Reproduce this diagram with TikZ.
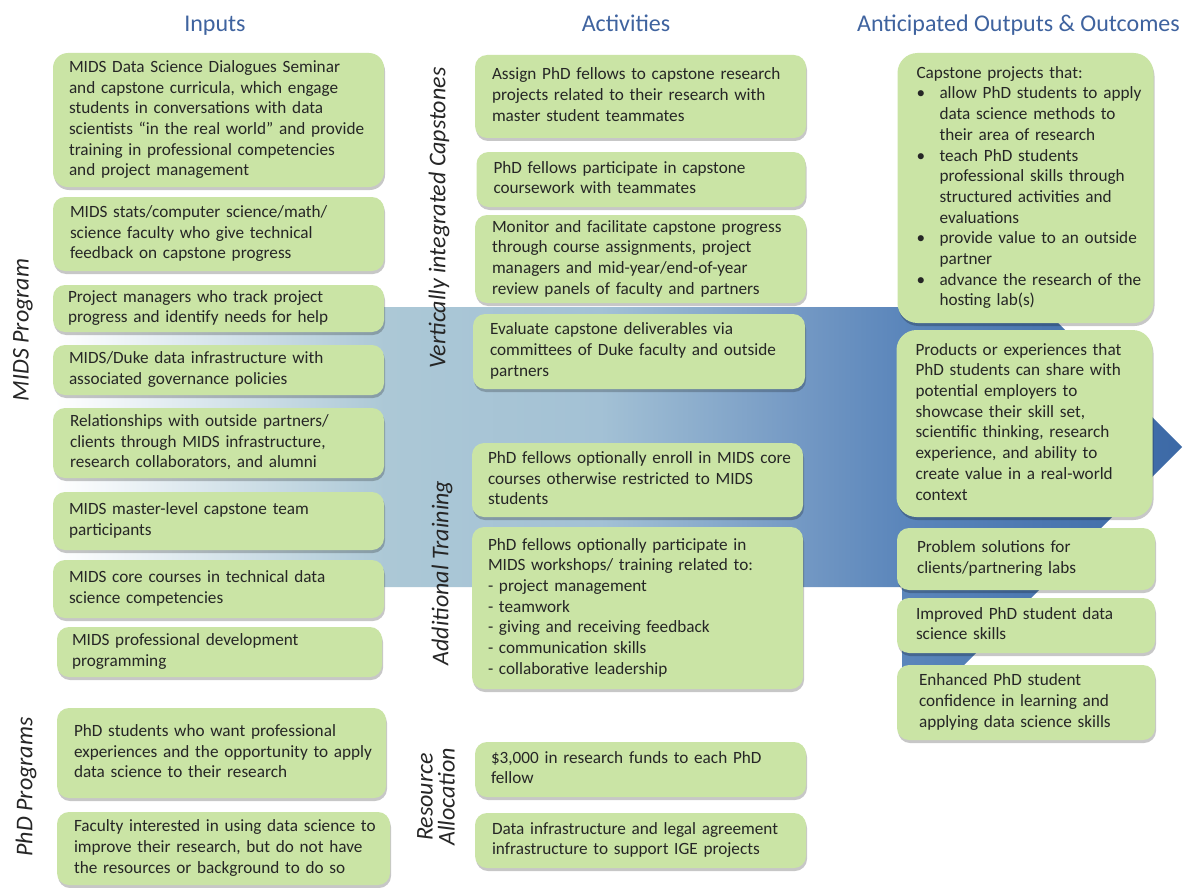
\documentclass[tikz,border=0pt]{standalone}
\usepackage{fontspec}
\setmainfont{Carlito}
\usetikzlibrary{shadows}

\definecolor{boxgreen}{HTML}{CAE4A5}
\definecolor{headblue}{HTML}{3F639F}
\definecolor{bodytext}{HTML}{262626}
\definecolor{flowA}{HTML}{ACC8D6}
\definecolor{flowB}{HTML}{A3C1D5}
\definecolor{flowC}{HTML}{7499C4}
\definecolor{flowD}{HTML}{5B86BB}
\definecolor{flowE}{HTML}{3C69A6}

% left-to-right fill of the big flow arrow (path box spans 25bp..75bp)
\pgfdeclarehorizontalshading{flowshade}{100bp}{%
  color(0bp)=(white); color(25bp)=(white); color(39.6bp)=(flowA);
  color(49.2bp)=(flowB); color(58bp)=(flowC); color(62.5bp)=(flowD);
  color(75bp)=(flowE); color(100bp)=(flowE)}

% a block of lines that never re-wraps
\newcommand\rows[1]{\begin{tabular}{@{}l@{}}#1\end{tabular}}
\newcommand\bul{\makebox[23pt][l]{\textbullet}}
\newcommand\ind{\hspace*{23pt}}

\tikzset{
  box/.style={fill=boxgreen, rounded corners=12pt, inner ysep=0pt,
    align=left, text=bodytext, font=\fontsize{17.2}{20.7}\selectfont,
    drop shadow={shadow xshift=1pt, shadow yshift=-3pt, fill=black, opacity=0.22}},
  % width, height, left/right padding
  bsize/.code n args={3}{\pgfmathsetmacro\boxtw{#1-2*#3}%
    \edef\boxopts{inner xsep=#3pt, minimum width=#1pt, minimum height=#2pt, text width=\boxtw pt}%
    \expandafter\pgfkeysalso\expandafter{\boxopts}},
  head/.style={text=headblue, font=\fontsize{24}{28}\selectfont, anchor=base, inner sep=0pt},
  side/.style={text=bodytext, font=\fontsize{24}{22}\selectfont\itshape, rotate=90, inner sep=0pt}
}

\begin{document}
\begin{tikzpicture}[x=1pt, y=-1pt]
\useasboundingbox (0,0) rectangle (1191,888);
\fill[white] (0,0) rectangle (1191,888);

% flow arrow behind the three columns
\shade[shading=flowshade] (55,307) -- (902,307) -- (902,167) -- (1182,447)
  -- (902,727) -- (902,587) -- (55,587) -- cycle;

% column headings
\node[head] (hin)  at (215,32)    {Inputs};
\node[head] (hact) at (626,32)    {Activities};
\node[head] (hout) at (1018.5,32) {Anticipated Outputs \& Outcomes};

% group labels
\node[side] (lmids) at (23,330)  {MIDS Program};
\node[side] (lphd)  at (26,787)  {PhD Programs};
\node[side] (lvic)  at (439,218) {Vertically integrated Capstones};
\node[side] (ladd)  at (442,573) {Additional Training};
\node[side, align=center] (lres) at (436,797) {Resource\\Allocation};

% inputs
\node[box, bsize={331}{134}{16}, rounded corners=15pt] (in1) at (218.5,120) {\rows{%
  MIDS Data Science Dialogues Seminar\\
  and capstone curricula, which engage\\
  students in conversations with data\\
  scientists “in the real world” and provide\\
  training in professional competencies\\
  and project management}};
\node[box, bsize={331}{74}{17}] (in2) at (218.5,234) {\rows{%
  MIDS stats/computer science/math/\\
  science faculty who give technical\\
  feedback on capstone progress}};
\node[box, bsize={331}{47}{15}] (in3) at (218.5,308.5) {\rows{%
  Project managers who track project\\
  progress and identify needs for help}};
\node[box, bsize={331}{50}{16}] (in4) at (218.5,370) {\rows{%
  MIDS/Duke data infrastructure with\\
  associated governance policies}};
\node[box, bsize={331}{70}{17}] (in5) at (218.5,443) {\rows{%
  Relationships with outside partners/\\
  clients through MIDS infrastructure,\\
  research collaborators, and alumni}};
\node[box, bsize={331}{58}{16}] (in6) at (218.5,521) {\rows{%
  MIDS master-level capstone team\\
  participants}};
\node[box, bsize={331}{58}{16}] (in7) at (218.5,589) {\rows{%
  MIDS core courses in technical data\\
  science competencies}};
\node[box, bsize={325}{50}{15}] (in8) at (219.5,652) {\rows{%
  MIDS professional development\\
  programming}};
\node[box, bsize={329}{90}{17}] (in9) at (221.5,753) {\rows{%
  PhD students who want professional\\
  experiences and the opportunity to apply\\
  data science to their research}};
\node[box, bsize={333}{73}{17}] (in10) at (223.5,848.5) {\rows{%
  Faculty interested in using data science to\\
  improve their research, but do not have\\
  the resources or background to do so}};

% activities
\node[box, bsize={331}{83}{17}] (ac1) at (640.5,96.5) {\rows{%
  Assign PhD fellows to capstone research\\
  projects related to their research with\\
  master student teammates}};
\node[box, bsize={329}{55}{17}] (ac2) at (641,179.5) {\rows{%
  PhD fellows participate in capstone\\
  coursework with teammates}};
\node[box, bsize={331}{88}{17}] (ac3) at (640.5,259) {\rows{%
  Monitor and facilitate capstone progress\\
  through course assignments, project\\
  managers and mid-year/end-of-year\\
  review panels of faculty and partners}};
\node[box, bsize={332}{75}{17}] (ac4) at (639,351.5) {\rows{%
  Evaluate capstone deliverables via\\
  committees of Duke faculty and outside\\
  partners}};
\node[box, bsize={331}{74}{16}] (ac5) at (637.5,480) {\rows{%
  PhD fellows optionally enroll in MIDS core\\
  courses otherwise restricted to MIDS\\
  students}};
\node[box, bsize={331}{162}{16}] (ac6) at (637.5,608) {\rows{%
  PhD fellows optionally participate in\\
  MIDS workshops/ training related to:\\
  - project management\\
  - teamwork\\
  - giving and receiving feedback\\
  - communication skills\\
  - collaborative leadership}};
\node[box, bsize={331}{55}{16}] (ac7) at (640.5,769.5) {\rows{%
  \$3,000 in research funds to each PhD\\
  fellow}};
\node[box, bsize={331}{55}{17}] (ac8) at (640.5,840.5) {\rows{%
  Data infrastructure and legal agreement\\
  infrastructure to support IGE projects}};

% outputs and outcomes
\node[box, bsize={256}{270}{19}, rounded corners=20pt] (out1) at (1025.5,188) {\rows{%
  Capstone projects that:\\
  \bul allow PhD students to apply\\
  \ind data science methods to\\
  \ind their area of research\\
  \bul teach PhD students\\
  \ind professional skills through\\
  \ind structured activities and\\
  \ind evaluations\\
  \bul provide value to an outside\\
  \ind partner\\
  \bul advance the research of the\\
  \ind hosting lab(s)}};
\node[box, bsize={256}{187}{19}, rounded corners=20pt] (out2) at (1024.5,423.5) {\rows{%
  Products or experiences that\\
  PhD students can share with\\
  potential employers to\\
  showcase their skill set,\\
  scientific thinking, research\\
  experience, and ability to\\
  create value in a real-world\\
  context}};
\node[box, bsize={258}{62}{20}] (out3) at (1026,559) {\rows{%
  Problem solutions for\\
  clients/partnering labs}};
\node[box, bsize={258}{55}{19}] (out4) at (1026,625.5) {\rows{%
  Improved PhD student data\\
  science skills}};
\node[box, bsize={258}{75}{22}] (out5) at (1026,702.5) {\rows{%
  Enhanced PhD student\\
  confidence in learning and\\
  applying data science skills}};
\end{tikzpicture}
\end{document}
